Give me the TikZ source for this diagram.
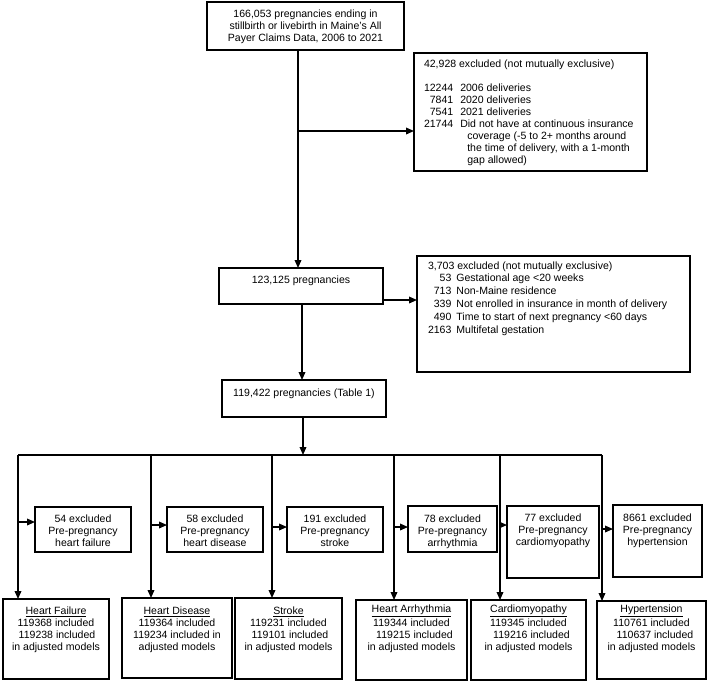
\documentclass[tikz,border=0pt]{standalone}
\usepackage{fontspec}
\setmainfont{Liberation Sans}
\usetikzlibrary{arrows.meta}
\newlength\px \setlength\px{0.75pt}
\newcommand\bx[5]{\node[box, minimum width={(#4-#2)*0.75pt}, minimum height={(#5-#3)*0.75pt}] (#1) at ({(#2+#4)/2},{(#3+#5)/2}) {};}
\begin{document}
\begin{tikzpicture}[x=0.75pt,y=-0.75pt,
  box/.style={draw, line width=1.2pt, inner sep=0, outer sep=0},
  txt/.style={inner sep=0, outer sep=0, align=center, font=\fontsize{7.9}{9}\selectfont},
  ln/.style={line width=1pt},
  arr/.style={line width=1pt, -{Triangle[length=6pt,width=5pt]}}]
\useasboundingbox (0,0) rectangle (709,682);

% top
\bx{top}{207}{2}{404}{50}
\node[txt, anchor=base] (topt) at (305.5,41) {166,053 pregnancies ending in\\stillbirth or livebirth in Maine's All\\Payer Claims Data, 2006 to 2021};

% exclusion 1
\bx{ex1}{414}{53}{647}{171}
\node[txt, anchor=base west] (ex1t) at (424,67) {\begin{tabular}[t]{@{}r@{\hspace{7\px}}l@{}}
\multicolumn{2}{@{}l@{}}{42,928 excluded (not mutually exclusive)}\\
\\
12244 & 2006 deliveries\\
7841 & 2020 deliveries\\
7541 & 2021 deliveries\\
21744 & Did not have at continuous insurance\\
 & \hspace*{7\px}coverage (-5 to 2+ months around\\
 & \hspace*{7\px}the time of delivery, with a 1-month\\
 & \hspace*{7\px}gap allowed)
\end{tabular}};

% 123,125
\bx{n2}{219}{268}{383}{304}
\node[txt, anchor=base] (n2t) at (301,283) {123,125 pregnancies};

% exclusion 2
\bx{ex2}{417}{256}{690}{372}
\node[txt, anchor=base west, font=\fontsize{7.9}{9.6}\selectfont] (ex2t) at (428,269) {\begin{tabular}[t]{@{}r@{\hspace{5\px}}l@{}}
\multicolumn{2}{@{}l@{}}{3,703 excluded (not mutually exclusive)}\\
53 & Gestational age <20 weeks\\
713 & Non-Maine residence\\
339 & Not enrolled in insurance in month of delivery\\
490 & Time to start of next pregnancy <60 days\\
2163 & Multifetal gestation
\end{tabular}};

% 119,422
\bx{n3}{222}{380}{386}{417}
\node[txt, anchor=base] (n3t) at (304,396) {119,422 pregnancies (Table 1)};

% middle exclusion boxes
\bx{ehf}{35}{507}{131}{552}
\node[txt, anchor=base] (ehft) at (83,546) {54 excluded\\Pre-pregnancy\\heart failure};
\bx{ehd}{167}{507}{263}{552}
\node[txt, anchor=base] (ehdt) at (215,546) {58 excluded\\Pre-pregnancy\\heart disease};
\bx{est}{287}{507}{383}{552}
\node[txt, anchor=base] (estt) at (335,546) {191 excluded\\Pre-pregnancy\\stroke};
\bx{ear}{408}{506}{497}{552}
\node[txt, anchor=base] (eart) at (452.5,546) {78 excluded\\Pre-pregnancy\\arrhythmia};
\bx{ecm}{507}{506}{599}{578}
\node[txt, anchor=base] (ecmt) at (553,545) {77 excluded\\Pre-pregnancy\\cardiomyopathy};
\bx{ehy}{613}{505}{702}{577}
\node[txt, anchor=base] (ehyt) at (657.5,545) {8661 excluded\\Pre-pregnancy\\hypertension};

% bottom boxes
\bx{bhf}{3}{599}{109}{679}
\node[txt, anchor=base] (bhft) at (56,650) {\underline{Heart Failure}\\119368 included\\\hspace*{2\px}119238 included\\in adjusted models};
\bx{bhd}{122}{598}{232}{678}
\node[txt, anchor=base] (bhdt) at (177,650) {\underline{Heart Disease}\\119364 included\\119234 included in\\adjusted models};
\bx{bst}{235}{598}{342}{679}
\node[txt, anchor=base] (bstt) at (288.5,650) {\underline{Stroke}\\119231 included\\\hspace*{3\px}119101 included\\in adjusted models};
\bx{bar}{356}{600}{467}{680}
\node[txt, anchor=base] (bart) at (411.5,650) {\underline{Heart Arrhythmia}\\119344 included\\\hspace*{6\px}119215 included\\in adjusted models};
\bx{bcm}{471}{600}{586}{680}
\node[txt, anchor=base] (bcmt) at (528.5,650) {\underline{Cardiomyopathy}\\119345 included\\\hspace*{6\px}119216 included\\in adjusted models};
\bx{bhy}{597}{601}{706}{679}
\node[txt, anchor=base] (bhyt) at (651.5,650) {\underline{Hypertension}\\110761 included\\\hspace*{7\px}110637 included\\in adjusted models};

% connectors
\coordinate (v1) at (298,131);
\draw[arr] (top.south -| v1) -- (n2.north -| v1);
\draw[arr] (v1) -- (v1 -| ex1.west);
\coordinate (v2) at (302,300);
\draw[arr] (v2 -| n2.east) -- (v2 -| ex2.west);
\draw[arr] (n2.south -| v2) -- (n3.north -| v2);
\coordinate (v3) at (303,455);
\draw[arr] (n3.south -| v3) -- (v3);
\coordinate (jl) at (18,455);
\coordinate (jr) at (602,455);
\draw[ln] (jl) -- (jr);
\foreach \x/\ya/\e/\b in {18/522/ehf/bhf, 151/525/ehd/bhd, 272/527/est/bst, 394/527/ear/bar, 500/525/ecm/bcm, 602/529/ehy/bhy} {
  \coordinate (j\b) at (\x,455);
  \coordinate (k\b) at (\x,\ya);
  \draw[arr] (j\b) -- (j\b |- \b.north);
  \draw[arr] (k\b) -- (k\b -| \e.west);
}
\end{tikzpicture}
\end{document}
